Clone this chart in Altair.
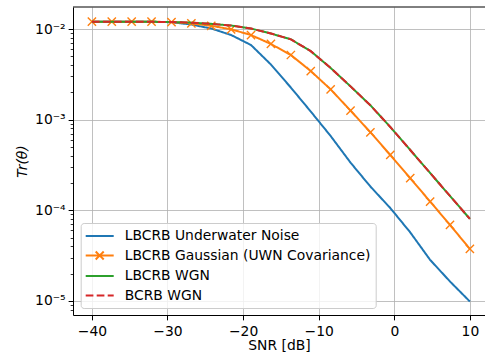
import altair as alt
import pandas as pd

# ---------------- data ----------------
snr_db = [-40.0, -37.37, -34.74, -32.11, -29.47, -26.84, -24.21, -21.58, -18.95, -16.32,
          -13.68, -11.05, -8.42, -5.79, -3.16, -0.53, 2.11, 4.74, 7.37, 10.0]

lbcrb_uwn = [1.204e-2, 1.204e-2, 1.204e-2, 1.203e-2, 1.189e-2, 1.121e-2, 1.013e-2, 8.59e-3,
             6.66e-3, 4.06e-3, 2.26e-3, 1.23e-3, 6.61e-4, 3.36e-4, 1.83e-4, 1.06e-4,
             5.71e-5, 2.84e-5, 1.64e-5, 9.85e-6]

lbcrb_gauss = [1.204e-2, 1.204e-2, 1.204e-2, 1.204e-2, 1.194e-2, 1.155e-2, 1.086e-2, 9.92e-3,
               8.59e-3, 6.84e-3, 5.17e-3, 3.44e-3, 2.16e-3, 1.26e-3, 7.26e-4, 4.08e-4,
               2.26e-4, 1.25e-4, 6.90e-5, 3.75e-5]

lbcrb_wgn = [1.204e-2, 1.204e-2, 1.204e-2, 1.201e-2, 1.194e-2, 1.176e-2, 1.141e-2, 1.093e-2,
             1.013e-2, 8.92e-3, 7.70e-3, 5.70e-3, 3.72e-3, 2.33e-3, 1.44e-3, 8.31e-4,
             4.63e-4, 2.58e-4, 1.44e-4, 8.04e-5]

bcrb_wgn = [1.204e-2, 1.204e-2, 1.204e-2, 1.201e-2, 1.194e-2, 1.176e-2, 1.141e-2, 1.093e-2,
            1.013e-2, 8.92e-3, 7.70e-3, 5.70e-3, 3.72e-3, 2.33e-3, 1.44e-3, 8.31e-4,
            4.63e-4, 2.58e-4, 1.44e-4, 8.04e-5]

series_names = ["LBCRB Underwater Noise", "LBCRB Gaussian (UWN Covariance)",
                "LBCRB WGN", "BCRB WGN"]
series_colors = ["#1f77b4", "#ff7f0e", "#2ca02c", "#d62728"]
series_dashes = [[1, 0], [1, 0], [1, 0], [7.7, 3.3]]

x_ticks = [-40, -30, -20, -10, 0, 10]
y_major = [1e-5, 1e-4, 1e-3, 1e-2]
y_minor = [8e-6, 9e-6,
           2e-5, 3e-5, 4e-5, 5e-5, 6e-5, 7e-5, 8e-5, 9e-5,
           2e-4, 3e-4, 4e-4, 5e-4, 6e-4, 7e-4, 8e-4, 9e-4,
           2e-3, 3e-3, 4e-3, 5e-3, 6e-3, 7e-3, 8e-3, 9e-3]

rows = []
for name, vals in zip(series_names, [lbcrb_uwn, lbcrb_gauss, lbcrb_wgn, bcrb_wgn]):
    for x, v in zip(snr_db, vals):
        rows.append({"snr": x, "val": v, "series": name})
df = pd.DataFrame(rows)

# ---------------- styling ----------------
FONT = "DejaVu Sans"
FS = 13.89
W, H = 412, 308
GRID = "#b0b0b0"

major_test = "abs(log(datum.value)/LN10 - round(log(datum.value)/LN10)) < 0.001"
e = "round(log(datum.value)/LN10)"
label_expr = (f"({major_test}) ? '10' + ({e} == -2 ? '⁻²' : {e} == -3 ? '⁻³' : "
              f"{e} == -4 ? '⁻⁴' : '⁻⁵') : ''")

x_enc = alt.X(
    "snr:Q",
    scale=alt.Scale(domain=[-42.5, 12.0], nice=False, zero=False),
    axis=alt.Axis(values=x_ticks, title="SNR [dB]", grid=True, gridColor=GRID, gridWidth=0.8,
                  tickSize=4.86, tickColor="black", tickWidth=1, domainColor="black",
                  domainWidth=1, labelFont=FONT, labelFontSize=FS, labelColor="black",
                  labelPadding=5, labelFlush=False, titleFont=FONT, titleFontSize=FS,
                  titleFontWeight="normal", titleColor="black", titlePadding=0),
)

y_enc = alt.Y(
    "val:Q",
    scale=alt.Scale(type="log", domain=[7.0e-6, 1.75e-2], nice=False),
    axis=alt.Axis(values=y_major + y_minor, labelExpr=label_expr, labelOverlap=False,
                  grid=True, gridColor=GRID, gridWidth=0.8,
                  gridOpacity={"condition": {"test": major_test, "value": 1}, "value": 0},
                  tickSize={"condition": {"test": major_test, "value": 4.86}, "value": 2.8},
                  tickWidth={"condition": {"test": major_test, "value": 1}, "value": 0.8},
                  tickColor="black", domainColor="black", domainWidth=1,
                  labelFont=FONT, labelFontSize=FS, labelColor="black", labelPadding=3,
                  title="Tr(θ)", titleFont=FONT, titleFontSize=FS, titleFontWeight="normal",
                  titleFontStyle="italic", titleColor="black", titlePadding=5),
)

line_path = "M-2,0H2"
cross_path = "M-2,0H2M-0.57,-0.57L0.57,0.57M-0.57,0.57L0.57,-0.57"
legend = alt.Legend(
    title=None, orient="none", legendX=7.7, legendY=216, direction="vertical",
    symbolType=alt.ExprRef(
        expr=f"datum.value === '{series_names[1]}' ? '{cross_path}' : '{line_path}'"),
    symbolSize=196, symbolStrokeWidth=2, symbolOffset=6, labelFont=FONT,
    labelFontSize=FS, labelColor="black", labelLimit=400, labelOffset=17, padding=5,
    rowPadding=4.5, fillColor="rgba(255,255,255,0.8)", strokeColor="#cccccc",
    cornerRadius=3,
)

color_enc = alt.Color("series:N", scale=alt.Scale(domain=series_names, range=series_colors),
                      legend=legend)
dash_enc = alt.StrokeDash("series:N", scale=alt.Scale(domain=series_names, range=series_dashes),
                          legend=legend)

base = alt.Chart(df)


def line_layer(name):
    return base.transform_filter(alt.datum.series == name).mark_line(strokeWidth=2).encode(
        x=x_enc, y=y_enc, color=color_enc, strokeDash=dash_enc)


markers = base.transform_filter(alt.datum.series == series_names[1]).mark_point(
    shape="M-1,-1L1,1M-1,1L1,-1", size=68, strokeWidth=1.4, filled=False,
    color=series_colors[1], opacity=1).encode(x=x_enc, y=y_enc)

top_spine = alt.Chart(pd.DataFrame({"k": [0]})).mark_rule(color="black", strokeWidth=1).encode(
    x=alt.value(0), x2=alt.value(W), y=alt.value(0))

chart = alt.layer(
    line_layer(series_names[0]),
    line_layer(series_names[1]),
    markers,
    line_layer(series_names[2]),
    line_layer(series_names[3]),
    top_spine,
).properties(
    width=W, height=H,
    autosize=alt.AutoSizeParams(type="none"),
    padding={"left": 73, "top": 7, "right": 0, "bottom": 43},
    background="white",
).configure_view(stroke="transparent")

chart.save("out.html", embed_options={"renderer": "svg", "actions": False})
